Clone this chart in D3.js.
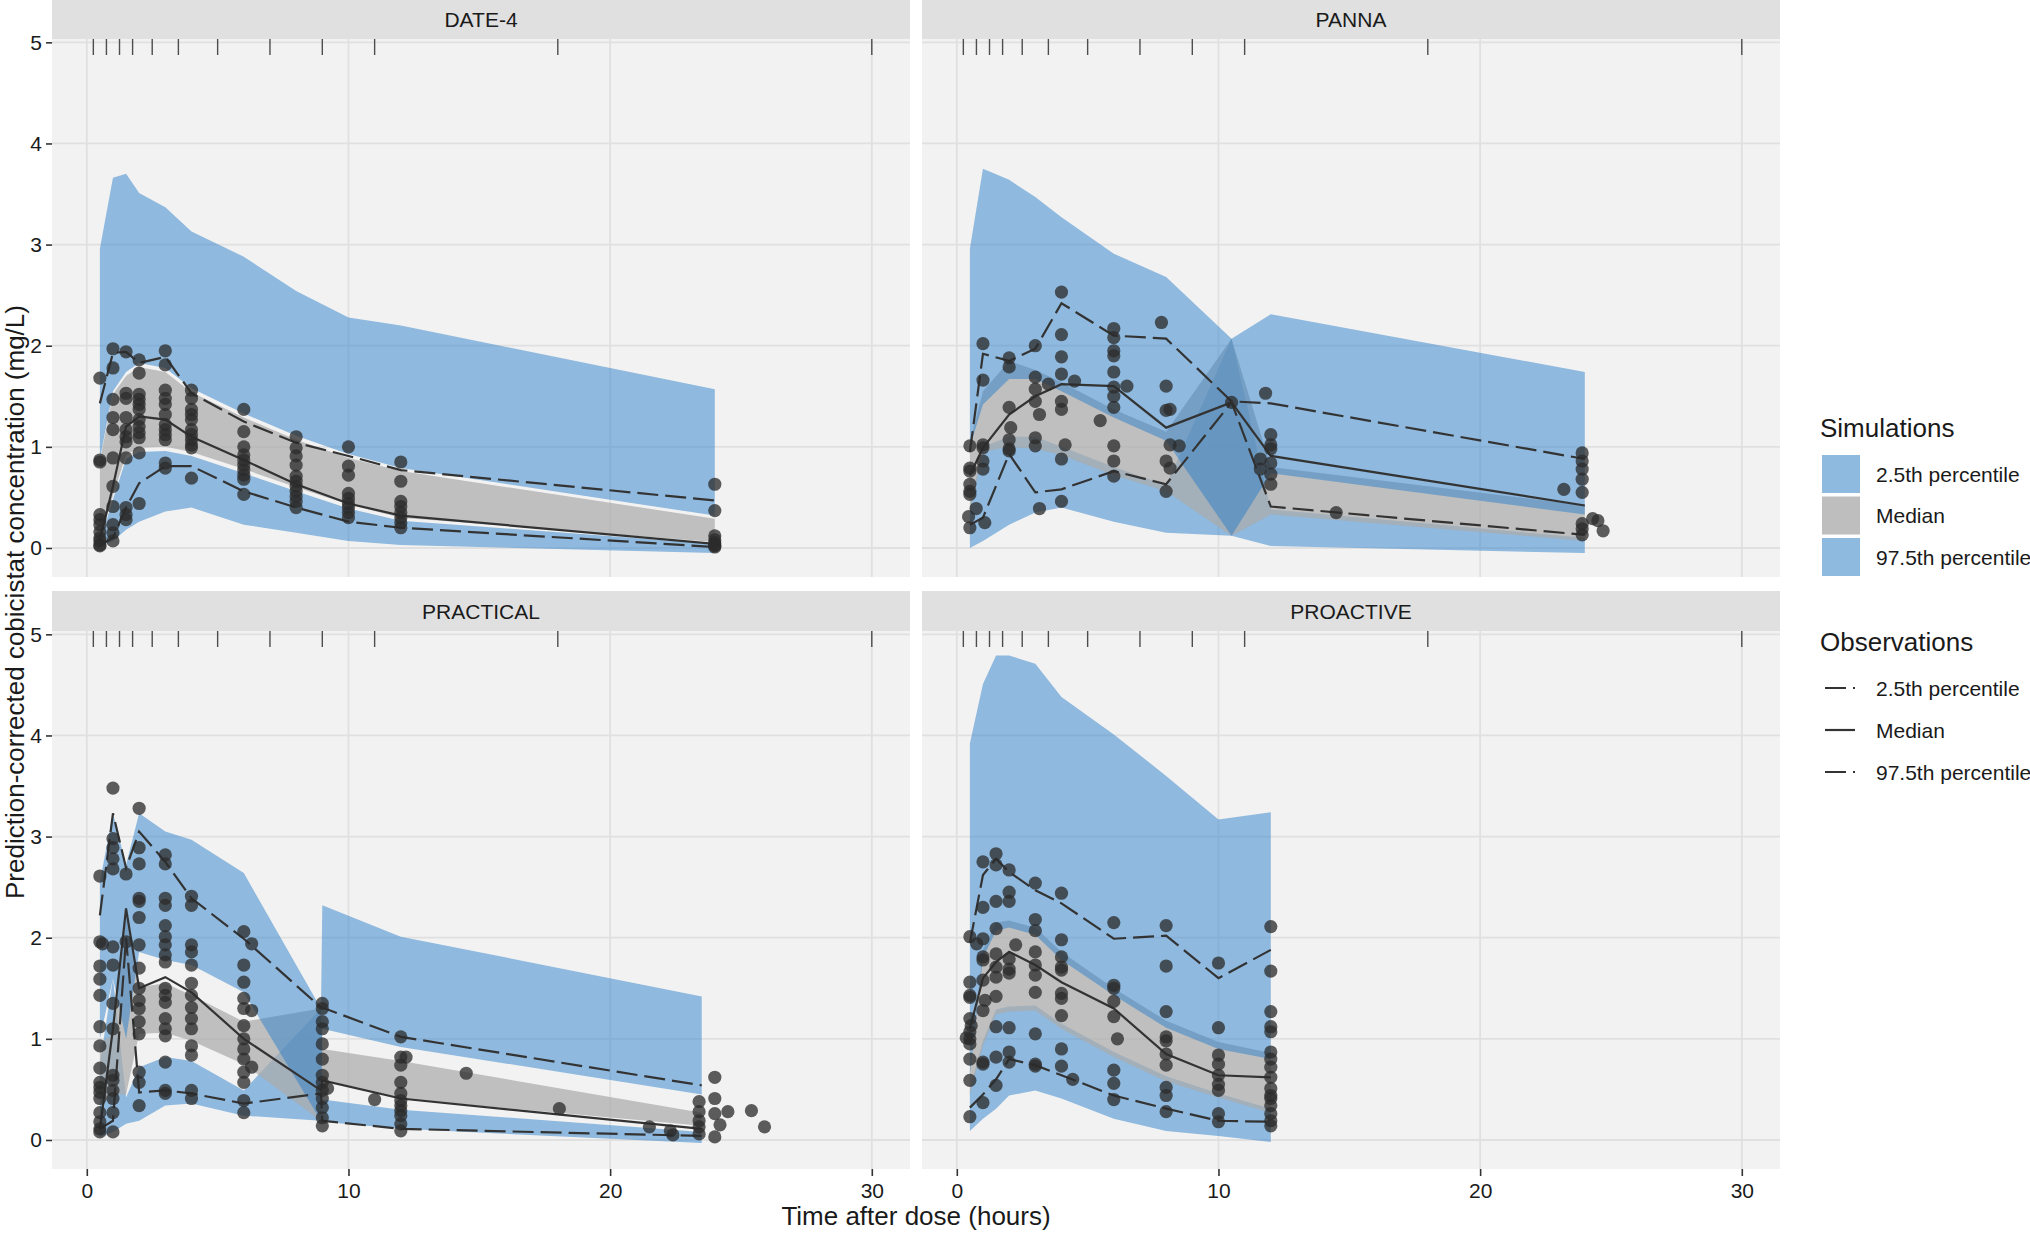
<!DOCTYPE html>
<html>
<head>
<meta charset="utf-8">
<script src="https://cdn.jsdelivr.net/npm/d3@7"></script>
<style>
  body { margin: 0; background: #fff; }
  text { font-family: "Liberation Sans", Arial, sans-serif; }
</style>
</head>
<body>
<div id="chart"></div>
<script>
// ---- data ----
const panelNames = ["DATE-4", "PANNA", "PRACTICAL", "PROACTIVE"]
const binEdges = [0.25, 0.75, 1.25, 1.75, 2.5, 3.5, 5, 7, 9, 11, 18, 30]
const xTicks = [0, 10, 20, 30]
const yTicks = [0, 1, 2, 3, 4, 5]
const simLabels = ["2.5th percentile", "Median", "97.5th percentile"]
const obsLabels = ["2.5th percentile", "Median", "97.5th percentile"]

// DATE-4
const date4Time = [0.5, 1, 1.5, 2, 3, 4, 6, 8, 10, 12, 24]
const date4Sim025 = [[0.02, 0.06], [0.07, 0.48], [0.18, 0.88], [0.26, 0.95], [0.36, 0.96], [0.40, 0.91], [0.23, 0.74], [0.15, 0.56], [0.07, 0.39], [0.03, 0.27], [-0.05, 0.04]]
const date4SimMed = [[0.07, 0.86], [0.52, 1.52], [0.92, 1.70], [0.99, 1.79], [1.00, 1.74], [0.95, 1.54], [0.78, 1.29], [0.60, 1.07], [0.43, 0.89], [0.30, 0.76], [0.06, 0.29]]
const date4Sim975 = [[0.88, 2.96], [1.55, 3.66], [1.74, 3.70], [1.83, 3.51], [1.78, 3.37], [1.58, 3.13], [1.33, 2.88], [1.11, 2.54], [0.93, 2.28], [0.79, 2.20], [0.32, 1.57]]
const date4Obs025 = [0.03, 0.10, 0.40, 0.64, 0.81, 0.81, 0.56, 0.40, 0.26, 0.20, 0.01]
const date4ObsMed = [0.08, 0.61, 1.20, 1.30, 1.27, 1.10, 0.87, 0.63, 0.44, 0.32, 0.04]
const date4Obs975 = [1.43, 1.93, 1.94, 1.83, 1.89, 1.53, 1.25, 1.04, 0.91, 0.77, 0.47]
const date4Points = [
  [0.5, [1.68, 0.87, 0.85, 0.33, 0.28, 0.23, 0.16, 0.10, 0.07, 0.03, 0.02]],
  [1, [1.97, 1.78, 1.47, 1.29, 1.17, 0.89, 0.61, 0.41, 0.23, 0.15, 0.07]],
  [1.5, [1.94, 1.53, 1.48, 1.29, 1.17, 1.10, 1.05, 0.89, 0.40, 0.33, 0.28]],
  [2, [1.86, 1.73, 1.52, 1.47, 1.42, 1.37, 1.27, 1.20, 1.14, 1.09, 0.94, 0.44]],
  [3, [1.95, 1.81, 1.56, 1.48, 1.42, 1.32, 1.22, 1.17, 1.12, 1.07, 0.84, 0.79]],
  [4, [1.56, 1.48, 1.37, 1.32, 1.27, 1.17, 1.12, 1.07, 1.02, 0.99, 0.69]],
  [6, [1.37, 1.15, 1.00, 0.92, 0.87, 0.82, 0.77, 0.72, 0.68, 0.53]],
  [8, [1.10, 0.99, 0.91, 0.82, 0.71, 0.66, 0.61, 0.56, 0.51, 0.46, 0.40]],
  [10, [1.00, 0.81, 0.72, 0.54, 0.49, 0.44, 0.40, 0.35, 0.30]],
  [12, [0.85, 0.66, 0.46, 0.41, 0.35, 0.30, 0.25, 0.20]],
  [24, [0.63, 0.37, 0.12, 0.08, 0.05, 0.03, 0.02, 0.01]]
]

// PANNA
const pannaTime = [0.5, 1, 2, 3, 4, 6, 8, 10.5, 12, 24]
const pannaSim025 = [[0.00, 0.40], [0.07, 1.00], [0.23, 1.10], [0.35, 1.10], [0.40, 1.00], [0.26, 0.80], [0.15, 0.62], [0.12, 2.07], [0.02, 0.38], [-0.05, 0.10]]
const pannaSimMed = [[0.35, 1.05], [0.95, 1.55], [1.00, 1.85], [0.98, 1.76], [0.92, 1.64], [0.72, 1.37], [0.56, 1.15], [0.12, 2.07], [0.33, 0.80], [0.07, 0.42]]
const pannaSim975 = [[1.00, 2.96], [1.42, 3.75], [1.67, 3.64], [1.67, 3.47], [1.55, 3.27], [1.29, 2.91], [1.06, 2.68], [0.12, 2.07], [0.74, 2.31], [0.33, 1.74]]
const pannaObs025 = [0.23, 0.30, 0.93, 0.55, 0.58, 0.76, 0.63, 1.44, 0.41, 0.13]
const pannaObsMed = [0.72, 0.99, 1.32, 1.50, 1.62, 1.60, 1.19, 1.44, 0.91, 0.42]
const pannaObs975 = [0.95, 1.92, 1.85, 1.97, 2.42, 2.10, 2.07, 1.45, 1.43, 0.88]
const pannaPoints = [
  [0.5, [1.01, 0.79, 0.76, 0.63, 0.56, 0.53, 0.20]], [0.45, [0.31]], [0.74, [0.39]],
  [1, [2.02, 1.66, 1.02, 0.99, 0.86, 0.78]], [1.07, [0.25]],
  [2, [1.88, 1.79, 1.39, 1.07, 0.98, 0.96]], [2.06, [1.19]],
  [3, [2.00, 1.69, 1.57, 1.45, 1.09, 1.01]], [3.16, [1.32, 0.39]], [3.5, [1.62]],
  [4, [2.53, 2.11, 1.89, 1.72, 1.45, 1.37, 0.88, 0.46]], [4.14, [1.02]], [4.5, [1.65]],
  [5.48, [1.26]],
  [6, [2.17, 2.08, 1.95, 1.90, 1.74, 1.59, 1.50, 1.39, 1.01, 0.86, 0.71]], [6.5, [1.60]],
  [7.82, [2.23]], [8, [1.60, 1.36, 0.86, 0.56]], [8.15, [1.37, 1.02, 0.79]], [8.5, [1.01]],
  [10.5, [1.44]],
  [11.8, [1.53]], [12, [1.12, 1.02, 0.98, 0.84, 0.73, 0.63]], [11.6, [0.88, 0.78]],
  [14.5, [0.35]],
  [23.2, [0.58]], [23.9, [0.94, 0.86, 0.78, 0.68, 0.55, 0.24, 0.19, 0.13]], [24.3, [0.29]], [24.5, [0.27]], [24.7, [0.17]]
]

// PRACTICAL
const practicalTime = [0.5, 1, 1.5, 2, 3, 4, 6, 8.95, 9, 12, 23.5]
const practicalSim025 = [[0.03, 0.75], [0.08, 1.60], [0.16, 0.42], [0.19, 0.72], [0.34, 0.82], [0.36, 0.78], [0.24, 0.49], [0.19, 1.30], [0.18, 0.40], [0.11, 0.30], [-0.03, 0.08]]
const practicalSimMed = [[0.35, 0.95], [0.45, 1.05], [0.45, 2.30], [1.05, 1.51], [1.06, 1.55], [0.98, 1.43], [0.75, 1.17], [0.19, 1.30], [0.60, 0.90], [0.41, 0.78], [0.14, 0.27]]
const practicalSim975 = [[1.00, 2.55], [1.60, 3.23], [1.00, 2.72], [1.86, 3.23], [1.78, 3.05], [1.73, 2.97], [1.46, 2.64], [0.19, 1.30], [1.10, 2.32], [0.92, 2.01], [0.45, 1.42]]
const practicalObs025 = [0.11, 0.19, 2.00, 0.47, 0.49, 0.46, 0.36, 0.46, 0.19, 0.11, 0.04]
const practicalObsMed = [0.11, 1.10, 2.29, 1.50, 1.61, 1.46, 1.00, 0.49, 0.59, 0.41, 0.11]
const practicalObs975 = [2.22, 3.23, 2.69, 3.05, 2.75, 2.39, 1.99, 1.31, 1.31, 1.02, 0.54]
const practicalPoints = [
  [0.5, [2.61, 1.96, 1.72, 1.59, 1.43, 1.12, 0.93, 0.71, 0.57, 0.52, 0.47, 0.41, 0.27, 0.18, 0.11, 0.08]],
  [0.6, [1.94]],
  [1, [3.48, 2.98, 2.89, 2.78, 2.68, 1.91, 1.73, 1.35, 1.10, 0.64, 0.59, 0.49, 0.41, 0.27, 0.08]],
  [1.5, [2.63, 1.96]],
  [2, [3.28, 2.89, 2.73, 2.39, 2.36, 2.20, 1.93, 1.70, 1.50, 1.38, 1.30, 1.17, 1.05, 0.67, 0.57, 0.34]],
  [3, [2.82, 2.73, 2.39, 2.32, 2.12, 2.01, 1.93, 1.83, 1.76, 1.50, 1.43, 1.36, 1.20, 1.10, 1.03, 0.77, 0.49, 0.46]],
  [4, [2.41, 2.32, 1.93, 1.86, 1.73, 1.55, 1.43, 1.31, 1.20, 1.10, 0.93, 0.84, 0.49, 0.41]],
  [6, [2.06, 1.73, 1.56, 1.40, 1.30, 1.13, 1.00, 0.90, 0.80, 0.67, 0.57, 0.39, 0.27]],
  [6.3, [1.94, 1.28, 0.72]],
  [9, [1.35, 1.30, 1.17, 1.10, 0.95, 0.80, 0.64, 0.57, 0.49, 0.41, 0.32, 0.22, 0.14]],
  [9.2, [0.51]], [11, [0.40]],
  [12, [1.02, 0.82, 0.74, 0.57, 0.46, 0.39, 0.34, 0.29, 0.24, 0.16, 0.09]],
  [12.2, [0.82]],
  [14.5, [0.66]], [18.06, [0.31]], [21.5, [0.13]], [22.3, [0.09]], [22.4, [0.05]],
  [23.4, [0.38, 0.28, 0.19, 0.13, 0.06]], [24, [0.62, 0.41, 0.26, 0.03]], [24.2, [0.15]],
  [24.5, [0.28]], [25.4, [0.29]], [25.9, [0.13]]
]

// PROACTIVE
const proactiveTime = [0.5, 1, 1.5, 2, 3, 4, 6, 8, 10, 12]
const proactiveSim025 = [[0.09, 0.50], [0.21, 0.98], [0.31, 1.29], [0.44, 1.32], [0.49, 1.33], [0.41, 1.15], [0.21, 0.87], [0.09, 0.63], [0.04, 0.46], [-0.02, 0.31]]
const proactiveSimMed = [[0.45, 0.70], [0.93, 1.88], [1.24, 2.15], [1.27, 2.17], [1.28, 2.10], [1.10, 1.86], [0.82, 1.50], [0.58, 1.18], [0.42, 0.97], [0.27, 0.86]]
const proactiveSim975 = [[0.65, 3.92], [1.80, 4.51], [2.07, 4.79], [2.10, 4.79], [2.03, 4.71], [1.78, 4.38], [1.43, 4.01], [1.11, 3.60], [0.90, 3.17], [0.80, 3.24]]
const proactiveObs025 = [0.32, 0.45, 0.60, 0.80, 0.74, 0.64, 0.44, 0.31, 0.19, 0.18]
const proactiveObsMed = [1.10, 1.60, 1.76, 1.86, 1.73, 1.56, 1.30, 0.85, 0.64, 0.62]
const proactiveObs975 = [1.95, 2.62, 2.78, 2.65, 2.47, 2.34, 1.99, 2.02, 1.60, 1.88]
const proactivePoints = [
  [0.5, [2.01, 1.56, 1.43, 1.41, 1.20, 1.07, 1.00, 0.95, 0.80, 0.59, 0.23]],
  [0.36, [1.01]], [0.76, [1.94]], [0.55, [1.13]],
  [1, [2.75, 2.30, 1.99, 1.81, 1.78, 1.58, 1.28, 0.77, 0.75, 0.37]], [1.08, [1.38]],
  [1.5, [2.83, 2.72, 2.36, 2.09, 1.84, 1.71, 1.61, 1.42, 1.12, 0.82, 0.54]],
  [2, [2.67, 2.45, 2.36, 1.79, 1.69, 1.65, 1.11, 0.87, 0.77]], [2.25, [1.93]],
  [3, [2.54, 2.18, 2.07, 1.86, 1.73, 1.63, 1.46, 1.05, 0.75, 0.73]],
  [4, [2.44, 1.98, 1.81, 1.71, 1.68, 1.45, 1.40, 1.23, 0.90, 0.73]], [4.43, [0.60]],
  [6, [2.15, 1.53, 1.50, 1.37, 1.22, 0.69, 0.56, 0.40]], [6.14, [1.00]],
  [8, [2.12, 1.72, 1.27, 1.02, 0.98, 0.85, 0.74, 0.52, 0.44, 0.28]],
  [10, [1.75, 1.11, 0.84, 0.75, 0.64, 0.55, 0.49, 0.26, 0.18]],
  [12, [2.11, 1.67, 1.27, 1.12, 1.07, 0.87, 0.80, 0.72, 0.62, 0.51, 0.44, 0.41, 0.34, 0.26, 0.19, 0.14]]
]

const panels = [
  { name: panelNames[0], time: date4Time, sim: [date4Sim025, date4SimMed, date4Sim975], obs: [date4Obs025, date4ObsMed, date4Obs975], points: date4Points },
  { name: panelNames[1], time: pannaTime, sim: [pannaSim025, pannaSimMed, pannaSim975], obs: [pannaObs025, pannaObsMed, pannaObs975], points: pannaPoints },
  { name: panelNames[2], time: practicalTime, sim: [practicalSim025, practicalSimMed, practicalSim975], obs: [practicalObs025, practicalObsMed, practicalObs975], points: practicalPoints },
  { name: panelNames[3], time: proactiveTime, sim: [proactiveSim025, proactiveSimMed, proactiveSim975], obs: [proactiveObs025, proactiveObsMed, proactiveObs975], points: proactivePoints }
]

// ---- layout ----
const width = 2030
const height = 1258
const panelW = 858
const panelH = 538
const stripH = 40
const panelPos = [[52, 39], [922, 39], [52, 631], [922, 631]]

const bandFill = ["#2c80ca", "#aaaaaa", "#2c80ca"]
const bandOpacity = [0.5, 0.72, 0.5]
const keyFill = ["#8fbadf", "#bebebe", "#8fbadf"]
const dash = ["21,7", null, "21,7"]
const ink = "#333333"
const fontFamily = '"Liberation Sans", Arial, sans-serif'

const x = d3.scaleLinear().domain([-1.33, 31.46]).range([0, panelW])
const y = d3.scaleLinear().domain([-0.287, 5.033]).range([panelH, 0])

const svg = d3.select("#chart").append("svg")
    .attr("width", width)
    .attr("height", height)
    .style("display", "block")

function drawPanel(p, i) {
    const [px, py] = panelPos[i]
    const g = svg.append("g").attr("transform", `translate(${px},${py})`)

    // strip
    g.append("rect")
        .attr("x", 0).attr("y", -stripH)
        .attr("width", panelW).attr("height", stripH)
        .attr("fill", "#e0e0e0")
    g.append("text")
        .attr("x", panelW / 2).attr("y", -12)
        .attr("text-anchor", "middle")
        .attr("font-size", 21)
        .attr("fill", "#1a1a1a")
        .text(p.name)

    g.append("rect")
        .attr("width", panelW).attr("height", panelH)
        .attr("fill", "#f2f2f2")

    // grid
    g.selectAll("line.gx").data(xTicks).join("line")
        .attr("class", "gx")
        .attr("x1", d => x(d)).attr("x2", d => x(d))
        .attr("y1", 0).attr("y2", panelH)
        .attr("stroke", "#e0e0e0").attr("stroke-width", 1.8)
    g.selectAll("line.gy").data(yTicks).join("line")
        .attr("class", "gy")
        .attr("y1", d => y(d)).attr("y2", d => y(d))
        .attr("x1", 0).attr("x2", panelW)
        .attr("stroke", "#e0e0e0").attr("stroke-width", 1.8)

    const clipId = `clip${i}`
    g.append("clipPath").attr("id", clipId)
        .append("rect").attr("width", panelW).attr("height", panelH)
    const plot = g.append("g").attr("clip-path", `url(#${clipId})`)

    // simulated percentile bands: 2.5th, median, 97.5th
    const area = d3.area()
        .x((d, j) => x(p.time[j]))
        .y0(d => y(d[0]))
        .y1(d => y(d[1]))
    p.sim.forEach((band, k) => {
        plot.append("path")
            .datum(band)
            .attr("d", area)
            .attr("fill", bandFill[k])
            .attr("fill-opacity", bandOpacity[k])
    })

    // observed percentile lines
    const line = d3.line().x((d, j) => x(p.time[j])).y(d => y(d))
    p.obs.forEach((vals, k) => {
        plot.append("path")
            .datum(vals)
            .attr("d", line)
            .attr("fill", "none")
            .attr("stroke", ink)
            .attr("stroke-width", 2.2)
            .attr("stroke-dasharray", dash[k])
    })

    // observations
    const pts = p.points.flatMap(([t, cs]) => cs.map(c => ({ t, c })))
    plot.selectAll("circle").data(pts).join("circle")
        .attr("cx", d => x(d.t))
        .attr("cy", d => y(d.c))
        .attr("r", 6.6)
        .attr("fill", "#2b2b2b")
        .attr("fill-opacity", 0.76)

    // rug of bin edges at the top
    g.selectAll("line.rug").data(binEdges).join("line")
        .attr("class", "rug")
        .attr("x1", d => x(d)).attr("x2", d => x(d))
        .attr("y1", 0).attr("y2", 16)
        .attr("stroke", "#4d4d4d").attr("stroke-width", 1.4)

    // axes
    if (i % 2 === 0) {
        const ay = g.append("g")
            .call(d3.axisLeft(y).tickValues(yTicks).tickFormat(d3.format("d")).tickSize(6).tickPadding(4))
        ay.select(".domain").remove()
        ay.selectAll("line").attr("stroke", ink).attr("stroke-width", 1.6)
        ay.selectAll("text").attr("font-size", 21).attr("fill", "#1a1a1a")
            .style("font-family", fontFamily)
    }
    if (i >= 2) {
        const ax = g.append("g")
            .attr("transform", `translate(0,${panelH})`)
            .call(d3.axisBottom(x).tickValues(xTicks).tickFormat(d3.format("d")).tickSize(7).tickPadding(7))
        ax.select(".domain").remove()
        ax.selectAll("line").attr("stroke", ink).attr("stroke-width", 1.6)
        ax.selectAll("text").attr("font-size", 21).attr("fill", "#1a1a1a")
            .style("font-family", fontFamily)
    }
}

panels.forEach(drawPanel)

// axis titles
svg.append("text")
    .attr("x", 916).attr("y", 1225)
    .attr("text-anchor", "middle")
    .attr("font-size", 26)
    .attr("fill", "#1a1a1a")
    .text("Time after dose (hours)")
svg.append("text")
    .attr("transform", "translate(24,602) rotate(-90)")
    .attr("text-anchor", "middle")
    .attr("font-size", 26)
    .attr("fill", "#1a1a1a")
    .text("Prediction-corrected cobicistat concentration (mg/L)")

// legend
const legend = svg.append("g")
legend.append("text")
    .attr("x", 1820).attr("y", 437)
    .attr("font-size", 26).attr("fill", "#1a1a1a")
    .text("Simulations")
simLabels.forEach((lab, k) => {
    const ky = 455 + k * 41.5
    legend.append("rect")
        .attr("x", 1822).attr("y", ky)
        .attr("width", 38).attr("height", 38)
        .attr("fill", keyFill[k])
    legend.append("text")
        .attr("x", 1876).attr("y", ky + 19 + 7.5)
        .attr("font-size", 21).attr("fill", "#1a1a1a")
        .text(lab)
})
legend.append("text")
    .attr("x", 1820).attr("y", 651)
    .attr("font-size", 26).attr("fill", "#1a1a1a")
    .text("Observations")
obsLabels.forEach((lab, k) => {
    const ly = 688 + k * 42
    legend.append("line")
        .attr("x1", 1825).attr("x2", 1855)
        .attr("y1", ly).attr("y2", ly)
        .attr("stroke", ink).attr("stroke-width", 2.2)
        .attr("stroke-dasharray", dash[k])
    legend.append("text")
        .attr("x", 1876).attr("y", ly + 7.5)
        .attr("font-size", 21).attr("fill", "#1a1a1a")
        .text(lab)
})
</script>
</body>
</html>
